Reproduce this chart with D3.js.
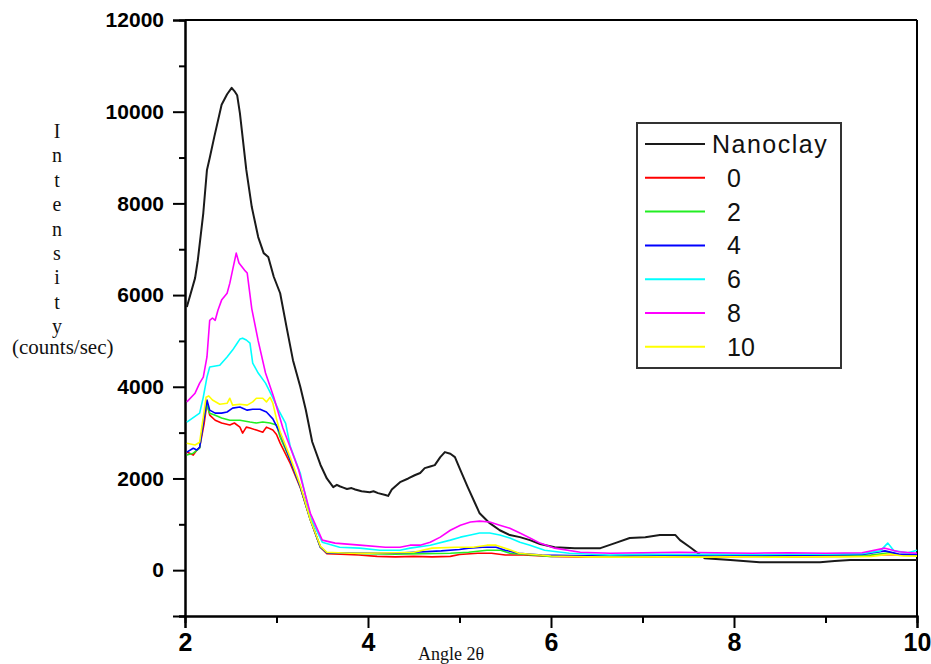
<!DOCTYPE html>
<html>
<head>
<meta charset="utf-8">
<script src="https://cdnjs.cloudflare.com/ajax/libs/d3/7.8.5/d3.min.js"></script>
<style>
  body { margin: 0; background: #fff; }
  svg { display: block; }
</style>
</head>
<body>
<svg id="chart" width="931" height="664"></svg>
<script>
// series data, [angle 2theta, counts/sec]
var nanoclay = [[2.02,5740],[2.11,6370],[2.14,6760],[2.20,7790],[2.24,8730],[2.27,8990],[2.32,9450],
  [2.40,10150],[2.46,10380],[2.51,10520],[2.54,10450],[2.57,10360],[2.60,9970],[2.67,8730],[2.73,7920],
  [2.80,7265],[2.86,6915],[2.91,6830],[2.97,6400],[3.04,6040],[3.11,5300],[3.18,4580],[3.26,4000],
  [3.32,3500],[3.39,2800],[3.48,2300],[3.55,2000],[3.62,1810],[3.66,1860],[3.69,1830],[3.73,1800],
  [3.77,1770],[3.82,1790],[3.86,1760],[3.93,1720],[4.02,1700],[4.06,1720],[4.11,1680],[4.19,1640],
  [4.22,1620],[4.26,1760],[4.35,1920],[4.44,2000],[4.51,2070],[4.57,2120],[4.62,2225],[4.68,2260],
  [4.73,2290],[4.79,2465],[4.84,2575],[4.90,2540],[4.95,2465],[5.01,2180],[5.09,1810],[5.17,1460],
  [5.22,1240],[5.33,1025],[5.44,870],[5.55,765],[5.66,720],[5.77,655],[5.88,570],[6.04,500],
  [6.26,480],[6.54,480],[6.70,590],[6.86,700],[7.03,720],[7.19,765],[7.36,765],[7.41,655],
  [7.52,500],[7.68,260],[7.96,220],[8.28,175],[8.61,175],[8.94,175],[9.10,200],[9.27,220],
  [9.60,220],[10.0,220]];

var s0 = [[2.02,2575],[2.09,2510],[2.13,2620],[2.16,2680],[2.21,3210],[2.24,3640],[2.27,3380],
  [2.33,3270],[2.40,3210],[2.49,3165],[2.54,3210],[2.60,3120],[2.63,2990],[2.67,3120],[2.71,3100],
  [2.78,3055],[2.85,3010],[2.89,3120],[2.96,3055],[3.00,2960],[3.04,2770],[3.15,2330],[3.26,1800],
  [3.37,1100],[3.48,500],[3.55,360],[3.70,350],[3.90,330],[4.10,300],[4.30,290],[4.50,300],
  [4.70,290],[4.90,300],[5.00,340],[5.20,370],[5.35,370],[5.50,330],[5.70,330],[6.00,300],
  [6.30,290],[6.60,300],[7.00,290],[7.40,300],[7.80,290],[8.20,300],[8.60,290],[9.00,300],
  [9.40,310],[9.70,340],[10.0,330]];

var s2 = [[2.02,2510],[2.09,2550],[2.16,2660],[2.20,3270],[2.24,3600],[2.27,3425],[2.33,3380],
  [2.40,3320],[2.49,3270],[2.60,3270],[2.71,3230],[2.78,3210],[2.85,3230],[2.93,3210],[3.00,3165],
  [3.04,2900],[3.15,2400],[3.26,1820],[3.37,1100],[3.48,500],[3.55,380],[3.80,370],[4.00,360],
  [4.30,350],[4.60,360],[4.90,370],[5.10,390],[5.30,435],[5.45,435],[5.55,370],[5.80,330],
  [6.00,300],[6.40,310],[6.80,300],[7.20,310],[7.60,300],[8.00,310],[8.40,300],[8.80,310],
  [9.20,310],[9.50,330],[9.70,380],[9.80,340],[10.0,330]];

var s4 = [[2.02,2575],[2.09,2660],[2.13,2620],[2.16,2680],[2.20,3210],[2.24,3710],[2.27,3490],
  [2.33,3425],[2.40,3425],[2.46,3450],[2.52,3535],[2.60,3560],[2.68,3490],[2.74,3510],[2.82,3510],
  [2.89,3450],[2.96,3300],[3.04,2990],[3.15,2400],[3.26,1820],[3.37,1100],[3.48,500],[3.55,380],
  [3.80,370],[4.00,370],[4.30,370],[4.50,390],[4.80,420],[5.00,450],[5.10,480],[5.25,500],
  [5.40,500],[5.50,435],[5.65,370],[5.90,330],[6.20,320],[6.60,310],[7.00,310],[7.40,320],
  [7.80,310],[8.20,320],[8.60,320],[9.00,330],[9.40,340],[9.65,420],[9.80,350],[10.0,340]];

var s6 = [[2.02,3230],[2.16,3425],[2.20,3775],[2.24,4210],[2.27,4430],[2.38,4470],[2.46,4650],
  [2.52,4800],[2.57,4950],[2.60,5040],[2.63,5060],[2.67,5020],[2.71,4950],[2.74,4515],[2.80,4300],
  [2.88,4080],[2.95,3800],[3.02,3500],[3.10,3200],[3.15,2700],[3.26,2115],[3.37,1155],[3.50,610],
  [3.69,500],[3.91,480],[4.13,435],[4.35,435],[4.46,480],[4.68,545],[4.90,655],[5.01,720],
  [5.12,765],[5.22,810],[5.33,810],[5.44,765],[5.55,700],[5.66,610],[5.77,545],[5.93,435],
  [6.20,370],[6.64,330],[7.00,350],[7.40,340],[7.80,350],[8.20,340],[8.60,350],[9.00,350],
  [9.40,360],[9.60,420],[9.68,590],[9.75,420],[9.90,380],[10.0,435]];

var s8 = [[2.02,3670],[2.11,3860],[2.16,4080],[2.20,4210],[2.24,4650],[2.27,5450],[2.30,5500],
  [2.33,5450],[2.36,5670],[2.40,5890],[2.46,6040],[2.49,6260],[2.52,6545],[2.56,6915],[2.59,6700],
  [2.65,6545],[2.68,6480],[2.73,5700],[2.80,5000],[2.88,4300],[2.97,3770],[3.07,3100],[3.15,2680],
  [3.24,2200],[3.37,1240],[3.50,655],[3.64,590],[3.91,545],[4.19,500],[4.35,500],[4.46,545],
  [4.57,545],[4.68,610],[4.79,720],[4.90,870],[5.01,980],[5.12,1050],[5.22,1070],[5.33,1050],
  [5.44,980],[5.55,915],[5.66,810],[5.77,700],[5.88,590],[6.04,480],[6.32,390],[6.65,370],
  [7.00,380],[7.40,390],[7.80,380],[8.20,370],[8.60,380],[9.00,370],[9.40,380],[9.65,480],
  [9.80,400],[10.0,370]];

var s10 = [[2.02,2770],[2.11,2730],[2.16,2790],[2.20,3340],[2.23,3770],[2.26,3800],[2.30,3710],
  [2.38,3620],[2.46,3640],[2.49,3750],[2.52,3600],[2.60,3620],[2.68,3600],[2.74,3670],[2.78,3750],
  [2.85,3750],[2.89,3670],[2.93,3770],[2.96,3640],[3.00,3300],[3.04,3010],[3.15,2460],[3.26,1850],
  [3.37,1100],[3.48,520],[3.55,390],[3.80,370],[4.00,370],[4.30,380],[4.50,390],[4.70,480],
  [4.95,500],[5.15,500],[5.30,545],[5.40,545],[5.50,480],[5.65,370],[6.00,310],[6.40,290],
  [6.80,285],[7.20,290],[7.60,285],[8.00,290],[8.40,285],[8.80,290],[9.20,290],[9.50,300],
  [9.70,350],[9.85,310],[10.0,305]];

var seriesNames = ["Nanoclay", "0", "2", "4", "6", "8", "10"];
var seriesData = [nanoclay, s0, s2, s4, s6, s8, s10];
var seriesColors = ["#1a1a1a", "#ff0000", "#22ee22", "#0000ff", "#00ffff", "#ff00ff", "#ffff00"];

var yMajor = [0, 2000, 4000, 6000, 8000, 10000, 12000];
var yMinor = [-1000, 1000, 3000, 5000, 7000, 9000, 11000];
var xMajor = [2, 4, 6, 8, 10];
var xMinor = [3, 5, 7, 9];

var svg = d3.select("#chart");

var x = d3.scaleLinear().domain([2, 10]).range([185, 917]);
var y = d3.scaleLinear().domain([-1000, 12000]).range([616, 20]);

// frame (top + right)
svg.append("line").attr("x1", 185).attr("x2", 917).attr("y1", 20).attr("y2", 20)
  .attr("stroke", "#000").attr("stroke-width", 2);
svg.append("line").attr("x1", 917).attr("x2", 917).attr("y1", 20).attr("y2", 616)
  .attr("stroke", "#000").attr("stroke-width", 2);

// left axis
var yAxis = svg.append("g")
  .attr("transform", "translate(185,0)")
  .call(d3.axisLeft(y).tickValues(yMajor).tickSize(12).tickPadding(9).tickFormat(d3.format("d")));
svg.append("g")
  .attr("transform", "translate(185,0)")
  .call(d3.axisLeft(y).tickValues(yMinor).tickSize(6).tickFormat(""));

// bottom axis
var xAxis = svg.append("g")
  .attr("transform", "translate(0,616)")
  .call(d3.axisBottom(x).tickValues(xMajor).tickSize(12).tickPadding(5).tickFormat(d3.format("d")));
svg.append("g")
  .attr("transform", "translate(0,616)")
  .call(d3.axisBottom(x).tickValues(xMinor).tickSize(7).tickFormat(""));

svg.selectAll(".domain").attr("stroke", "#000").attr("stroke-width", 2);
svg.selectAll(".tick line").attr("stroke", "#000").attr("stroke-width", 2);
yAxis.selectAll("text")
  .attr("font-family", "'Liberation Sans', Arial, sans-serif")
  .attr("font-weight", "bold").attr("font-size", "21px").attr("fill", "#000");
xAxis.selectAll("text")
  .attr("font-family", "'Liberation Sans', Arial, sans-serif")
  .attr("font-weight", "bold").attr("font-size", "25px").attr("fill", "#000");

// lines
var line = d3.line()
  .x(function(d) { return x(d[0]); })
  .y(function(d) { return y(d[1]); });

seriesData.forEach(function(data, i) {
  svg.append("path")
    .datum(data)
    .attr("fill", "none")
    .attr("stroke", seriesColors[i])
    .attr("stroke-width", i === 0 ? 2 : 1.6)
    .attr("stroke-linejoin", "round")
    .attr("d", line);
});

// y axis title, one letter per row
var yTitle = "Intensity".split("");
svg.selectAll(".ytitle")
  .data(yTitle)
  .enter().append("text")
  .attr("class", "ytitle")
  .attr("x", 57)
  .attr("y", function(d, i) { return 138 + i * 24.4; })
  .attr("text-anchor", "middle")
  .attr("font-family", "'Liberation Serif', 'Times New Roman', serif")
  .attr("font-size", "20px")
  .attr("fill", "#111")
  .text(function(d) { return d; });

svg.append("text")
  .attr("x", 12)
  .attr("y", 354)
  .attr("font-family", "'Liberation Serif', 'Times New Roman', serif")
  .attr("font-size", "21px")
  .attr("fill", "#111")
  .text("(counts/sec)");

svg.append("text")
  .attr("x", 418)
  .attr("y", 660)
  .attr("font-family", "'Liberation Serif', 'Times New Roman', serif")
  .attr("font-size", "18px")
  .attr("fill", "#111")
  .text("Angle 2\u03b8");

// legend
var legend = svg.append("g");
legend.append("rect")
  .attr("x", 637).attr("y", 123).attr("width", 204).attr("height", 245)
  .attr("fill", "#fff").attr("stroke", "#333").attr("stroke-width", 2);

seriesNames.forEach(function(name, i) {
  var ly = 144 + i * 33.8;
  legend.append("line")
    .attr("x1", 645).attr("x2", 705).attr("y1", ly).attr("y2", ly)
    .attr("stroke", seriesColors[i]).attr("stroke-width", 2);
  legend.append("text")
    .attr("x", i === 0 ? 712 : 727)
    .attr("y", ly)
    .attr("dy", "0.36em")
    .attr("font-family", "'Liberation Sans', Arial, sans-serif")
    .attr("font-size", "25px")
    .attr("letter-spacing", i === 0 ? "1.5px" : "0px")
    .attr("fill", "#111")
    .text(name);
});
</script>
</body>
</html>
